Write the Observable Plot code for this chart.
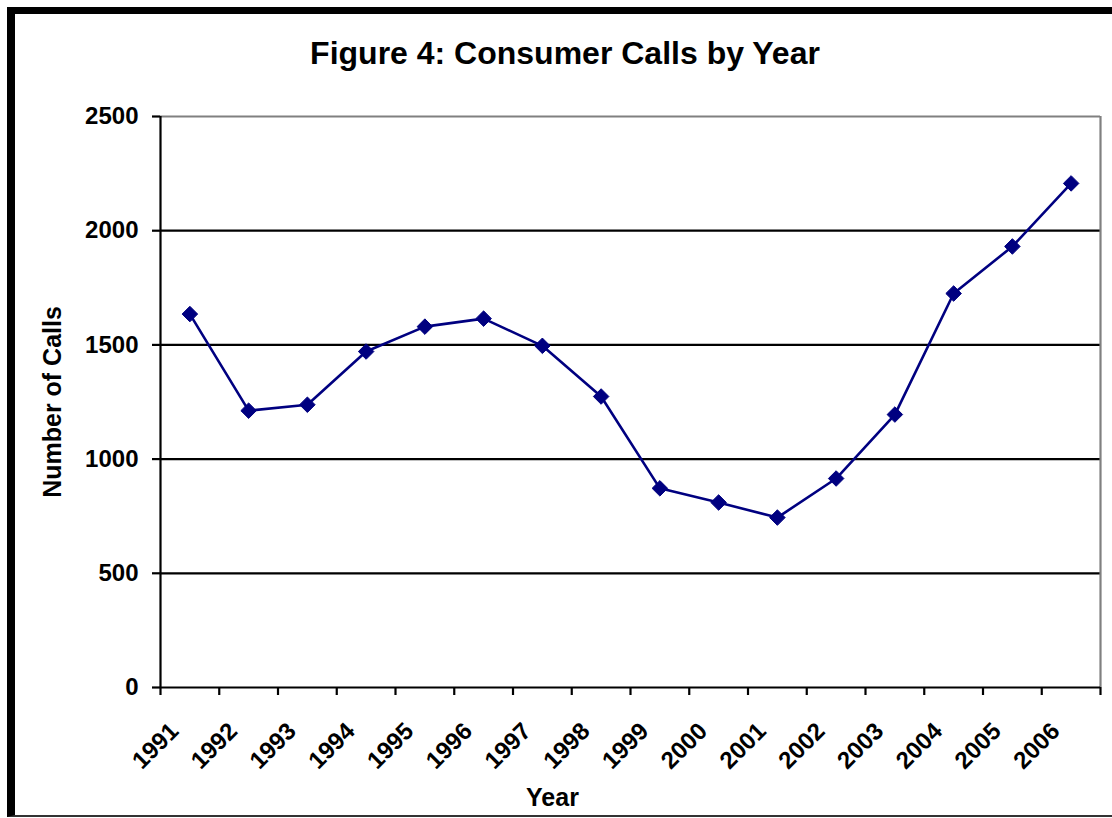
<!DOCTYPE html>
<html>
<head>
<meta charset="utf-8">
<script src="https://cdn.jsdelivr.net/npm/d3@7"></script>
<script src="https://cdn.jsdelivr.net/npm/@observablehq/plot@0.6"></script>
<style>
  html, body { margin: 0; padding: 0; background: #fff; }
  #wrap { position: relative; width: 1112px; height: 818px; overflow: hidden; background: #fff; font-family: "Liberation Sans", Arial, sans-serif; }
  #frame { position: absolute; left: 7px; top: 7px; width: 1200px; height: 810px; border-left: 8px solid #000; border-top: 7px solid #000; border-bottom: 2px solid #333; box-sizing: border-box; }
  #title { position: absolute; left: 9px; top: 34px; width: 1112px; text-align: center; font-weight: bold; font-size: 32px; line-height: 38px; color: #000; }
  #chart { position: absolute; left: 0; top: 0; }
</style>
</head>
<body>
<div id="wrap">
  <div id="frame"></div>
  <div id="chart"></div>
  <div id="title">Figure 4: Consumer Calls by Year</div>
</div>
<script>
const years = [1991, 1992, 1993, 1994, 1995, 1996, 1997, 1998, 1999, 2000, 2001, 2002, 2003, 2004, 2005, 2006];
const calls = [1635, 1212, 1238, 1471, 1580, 1615, 1496, 1274, 872, 810, 744, 915, 1195, 1725, 1931, 2207];
const yTicks = [0, 500, 1000, 1500, 2000, 2500];
const gridValues = [500, 1000, 1500, 2000];
const xBoundaries = [1990.5, 1991.5, 1992.5, 1993.5, 1994.5, 1995.5, 1996.5, 1997.5, 1998.5, 1999.5, 2000.5, 2001.5, 2002.5, 2003.5, 2004.5, 2005.5, 2006.5];
const yLabel = "Number of Calls";
const xLabel = "Year";

const data = years.map((y, i) => ({year: y, calls: calls[i]}));
const navy = "#000080";
const font = "'Liberation Sans', Arial, sans-serif";

const chart = Plot.plot({
  width: 1112,
  height: 818,
  marginTop: 116,
  marginBottom: 131,
  marginLeft: 160,
  marginRight: 12,
  style: {fontFamily: font, background: "transparent", color: "#000"},
  x: {type: "linear", domain: [1990.5, 2006.5]},
  y: {domain: [0, 2500]},
  marks: [
    Plot.ruleY(gridValues, {stroke: "#000", strokeWidth: 2.2}),
    Plot.ruleY([2500], {stroke: "#808080", strokeWidth: 2.2}),
    Plot.ruleX([2006.5], {stroke: "#808080", strokeWidth: 2.2}),
    Plot.axisY({
      ticks: yTicks, tickFormat: d => String(d), tickSize: 8, tickPadding: 14,
      fontSize: 24, fontWeight: "bold", label: null, strokeWidth: 2.2
    }),
    Plot.axisX({
      ticks: xBoundaries, tickFormat: () => "", tickSize: 8, label: null, strokeWidth: 2.2
    }),
    Plot.ruleY([0], {stroke: "#000", strokeWidth: 2.2}),
    Plot.ruleX([1990.5], {stroke: "#000", strokeWidth: 2.2}),
    Plot.text(years, {
      x: d => d, text: d => String(d), frameAnchor: "bottom", dy: 45, dx: -10,
      rotate: -45, textAnchor: "end", lineAnchor: "bottom",
      fontSize: 24, fontWeight: "bold", fill: "#000"
    }),
    Plot.text([yLabel], {
      frameAnchor: "left", dx: -108, rotate: -90, text: d => d, textAnchor: "middle",
      fontSize: 25, fontWeight: "bold", fill: "#000", lineAnchor: "middle"
    }),
    Plot.text([xLabel], {
      frameAnchor: "bottom", dx: -78, dy: 110, text: d => d,
      fontSize: 25, fontWeight: "bold", fill: "#000", lineAnchor: "middle"
    }),
    Plot.line(data, {x: "year", y: "calls", stroke: navy, strokeWidth: 2.6}),
    Plot.dot(data, {x: "year", y: "calls", symbol: "diamond2", r: 7, fill: navy, stroke: navy, strokeWidth: 1})
  ]
});
document.getElementById("chart").appendChild(chart);
</script>
</body>
</html>
